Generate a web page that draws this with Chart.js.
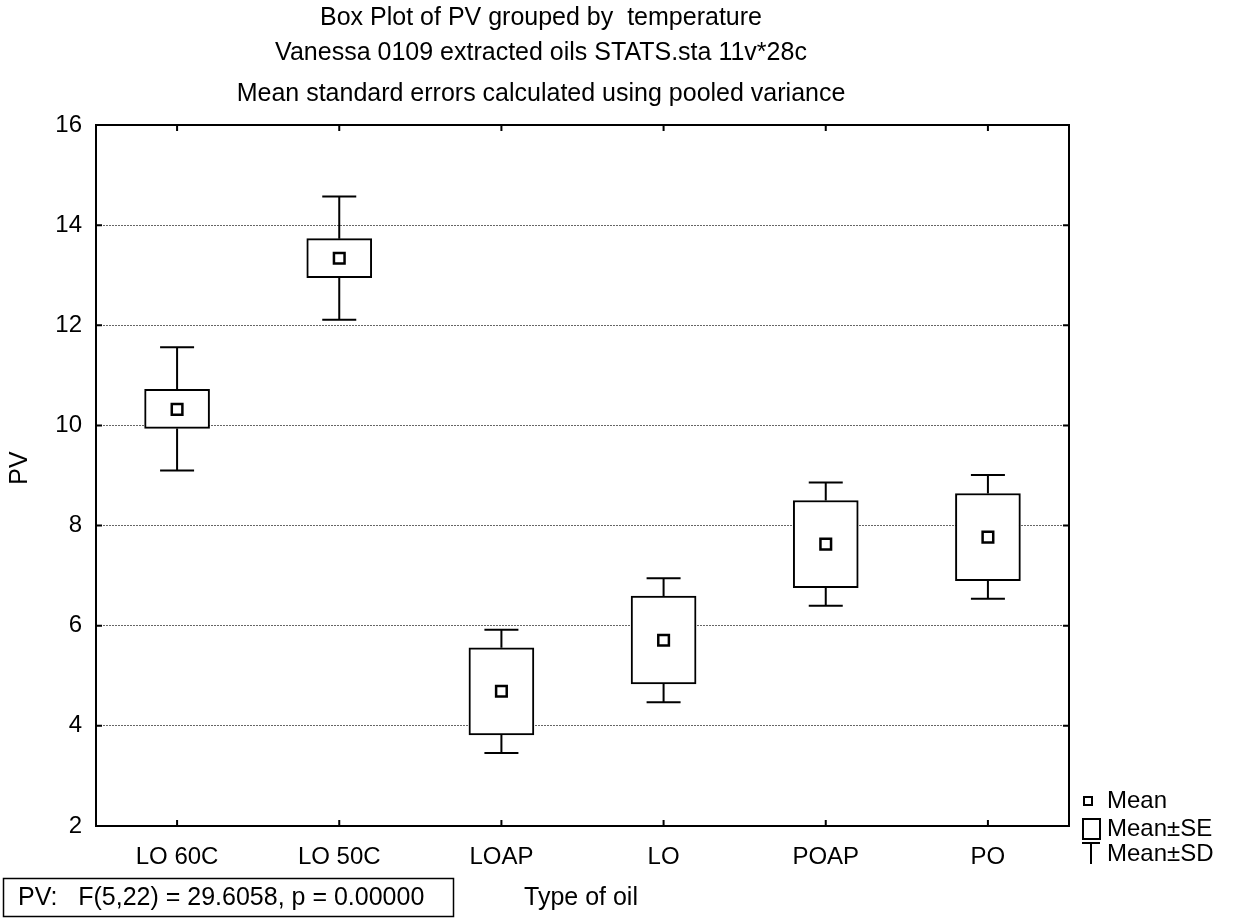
<!DOCTYPE html>
<html>
<head>
<meta charset="utf-8">
<script src="https://cdn.jsdelivr.net/npm/chart.js@4/dist/chart.umd.min.js"></script>
<style>
  html, body { margin: 0; padding: 0; background: #ffffff; }
  #wrap { width: 1236px; height: 918px; }
</style>
</head>
<body>
<div id="wrap"><canvas id="c" width="1236" height="918"></canvas></div>
<script>
// ---- data ----
const categories = ['LO 60C', 'LO 50C', 'LOAP', 'LO', 'POAP', 'PO'];
const means  = [10.32, 13.34, 4.69, 5.71, 7.63, 7.77];
const seLow  = [9.94, 12.95, 3.82, 4.84, 6.76, 6.90];
const seHigh = [10.72, 13.73, 5.56, 6.59, 8.50, 8.64];
const sdLow  = [9.10, 12.11, 3.46, 4.47, 6.40, 6.54];
const sdHigh = [11.56, 14.57, 5.92, 6.95, 8.86, 9.01];
const yTicks = [2, 4, 6, 8, 10, 12, 14, 16];
const titleLines = [
  'Box Plot of PV grouped by  temperature',
  'Vanessa 0109 extracted oils STATS.sta 11v*28c',
  'Mean standard errors calculated using pooled variance'
];
const xTitle = 'Type of oil';
const yTitle = 'PV';
const statText = 'PV:   F(5,22) = 29.6058, p = 0.00000';
const legendLabels = ['Mean', 'Mean\u00B1SE', 'Mean\u00B1SD'];

const FONT = '"Liberation Sans", Arial, Helvetica, sans-serif';

const extras = {
  id: 'extras',
  afterDraw(chart) {
    const ctx = chart.ctx;
    const xs = chart.scales.x, ys = chart.scales.y;
    const a = chart.chartArea;
    ctx.save();
    ctx.strokeStyle = '#000';
    ctx.fillStyle = '#000';
    ctx.lineWidth = 2;
    ctx.lineCap = 'butt';

    // whiskers (Mean ± SD)
    categories.forEach((c, i) => {
      const x = xs.getPixelForValue(i);
      const yB1 = ys.getPixelForValue(seHigh[i]);
      const yT = ys.getPixelForValue(sdHigh[i]);
      const yB2 = ys.getPixelForValue(seLow[i]);
      const yL = ys.getPixelForValue(sdLow[i]);
      ctx.beginPath();
      ctx.moveTo(x, yB1); ctx.lineTo(x, yT);
      ctx.moveTo(x - 17, yT); ctx.lineTo(x + 17, yT);
      ctx.moveTo(x, yB2); ctx.lineTo(x, yL);
      ctx.moveTo(x - 17, yL); ctx.lineTo(x + 17, yL);
      ctx.stroke();
    });

    // frame top and right
    ctx.beginPath();
    ctx.moveTo(a.left - 1, a.top); ctx.lineTo(a.right + 1, a.top);
    ctx.moveTo(a.right, a.top); ctx.lineTo(a.right, a.bottom + 1);
    ctx.stroke();

    // inward tick marks
    ctx.beginPath();
    yTicks.forEach(v => {
      const y = ys.getPixelForValue(v);
      ctx.moveTo(a.left, y); ctx.lineTo(a.left + 6, y);
      ctx.moveTo(a.right, y); ctx.lineTo(a.right - 6, y);
    });
    categories.forEach((c, i) => {
      const x = xs.getPixelForValue(i);
      ctx.moveTo(x, a.top); ctx.lineTo(x, a.top + 6);
      ctx.moveTo(x, a.bottom); ctx.lineTo(x, a.bottom - 6);
    });
    ctx.stroke();

    // titles
    ctx.textAlign = 'center';
    ctx.textBaseline = 'middle';
    ctx.font = '25px ' + FONT;
    const tY = [18, 53, 94];
    titleLines.forEach((t, i) => ctx.fillText(t, 541, tY[i]));

    // axis titles
    ctx.font = '25px ' + FONT;
    ctx.fillText(xTitle, 581, 898);
    ctx.save();
    ctx.translate(20, 468);
    ctx.rotate(-Math.PI / 2);
    ctx.fillText(yTitle, 0, 0);
    ctx.restore();

    // stats box
    ctx.lineWidth = 1.5;
    ctx.strokeRect(3.5, 878.5, 450, 38);
    ctx.textAlign = 'left';
    ctx.fillText(statText, 18, 898);

    // legend
    ctx.font = '24px ' + FONT;
    ctx.lineWidth = 2;
    ctx.strokeRect(1084, 797, 8, 8);
    ctx.fillText(legendLabels[0], 1107, 801);
    ctx.strokeRect(1083, 819, 17, 20);
    ctx.fillText(legendLabels[1], 1107, 829);
    ctx.beginPath();
    ctx.moveTo(1082, 843); ctx.lineTo(1100, 843);
    ctx.moveTo(1091, 843); ctx.lineTo(1091, 864);
    ctx.stroke();
    ctx.fillText(legendLabels[2], 1107, 854);

    ctx.restore();
  }
};

new Chart(document.getElementById('c'), {
  type: 'bar',
  data: {
    labels: categories,
    datasets: [
      {
        type: 'line',
        label: 'Mean',
        data: means,
        showLine: false,
        pointStyle: 'rect',
        pointRadius: 7.5,
        pointHoverRadius: 7.5,
        pointBorderWidth: 2.5,
        pointBackgroundColor: '#ffffff',
        pointBorderColor: '#000000',
        order: 0
      },
      {
        type: 'bar',
        label: 'Mean\u00B1SE',
        data: categories.map((c, i) => [seLow[i], seHigh[i]]),
        backgroundColor: '#ffffff',
        borderColor: '#000000',
        borderWidth: 2,
        borderSkipped: false,
        barThickness: 65,
        order: 1
      }
    ]
  },
  options: {
    responsive: false,
    animation: false,
    devicePixelRatio: 1,
    layout: { padding: { left: 0, right: 167, top: 125, bottom: 0 } },
    plugins: {
      legend: { display: false },
      title: { display: false },
      tooltip: { enabled: false }
    },
    events: [],
    scales: {
      x: {
        type: 'category',
        offset: true,
        grid: { display: false, drawTicks: false },
        border: { display: true, color: '#000', width: 2 },
        ticks: {
          color: '#000',
          font: { family: FONT, size: 24 },
          padding: 17,
          maxRotation: 0
        },
        afterFit(s) { s.height = 92; }
      },
      y: {
        min: 2,
        max: 16,
        afterBuildTicks(s) { s.ticks = yTicks.map(v => ({ value: v })); },
        grid: { display: true, drawTicks: false, color: '#666', lineWidth: 1 },
        border: { display: true, color: '#000', width: 2, dash: [2, 1] },
        ticks: {
          color: '#000',
          font: { family: FONT, size: 24 },
          padding: 14
        },
        afterFit(s) { s.width = 96; }
      }
    }
  },
  plugins: [extras]
});
</script>
</body>
</html>
